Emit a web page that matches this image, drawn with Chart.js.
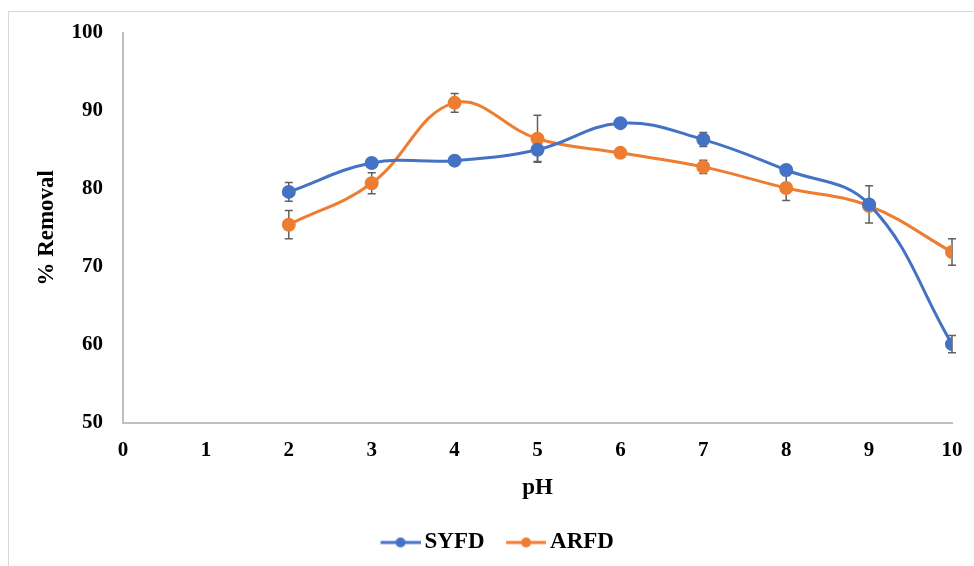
<!DOCTYPE html>
<html>
<head>
<meta charset="utf-8">
<script src="https://cdn.jsdelivr.net/npm/chart.js@4.4.1/dist/chart.umd.min.js"></script>
<style>
  html, body { margin: 0; padding: 0; background: #fff; }
  #frame { position: absolute; left: 8px; top: 11px; width: 966px; height: 555px;
           border-top: 1px solid #d9d9d9; border-left: 1px solid #d9d9d9; box-sizing: border-box; }
  #wrap { position: absolute; left: 0; top: 0; width: 974px; height: 566px; }
</style>
</head>
<body>
<div id="frame"></div>
<div id="wrap"><canvas id="c" width="974" height="566"></canvas></div>
<script>
const pH = [2, 3, 4, 5, 6, 7, 8, 9, 10];
const syfd = [79.6, 83.3, 83.6, 85.0, 88.4, 86.3, 82.4, 78.0, 60.1];
const syfdErr = [1.2, 0.5, 0.2, 1.5, 0.2, 0.9, 0.5, 2.4, 1.1];
const arfd = [75.4, 80.7, 91.0, 86.4, 84.6, 82.8, 80.1, 77.8, 71.9];
const arfdErr = [1.8, 1.35, 1.2, 3.0, 0.2, 0.85, 1.6, 0.4, 1.7];
const xTicks = [0, 1, 2, 3, 4, 5, 6, 7, 8, 9, 10];
const yTicks = [50, 60, 70, 80, 90, 100];

const BLUE = '#4472C4', ORANGE = '#ED7D31';
const FONT = "'Liberation Serif', 'Times New Roman', serif";

function legendIcon(color) {
  const c = document.createElement('canvas');
  c.width = 57; c.height = 14;
  const g = c.getContext('2d');
  g.strokeStyle = color; g.lineWidth = 3;
  g.beginPath(); g.moveTo(17, 7); g.lineTo(57, 7); g.stroke();
  g.fillStyle = color;
  g.beginPath(); g.arc(37, 7, 5, 0, Math.PI * 2); g.fill();
  return c;
}
const icons = [legendIcon(BLUE), legendIcon(ORANGE)];

const errorBars = {
  id: 'errorBars',
  beforeDatasetsDraw(chart) {
    const ctx = chart.ctx;
    const xs = chart.scales.x, ys = chart.scales.y;
    ctx.save();
    ctx.strokeStyle = '#606060';
    ctx.lineWidth = 1.5;
    chart.data.datasets.forEach(ds => {
      ds.data.forEach((p, i) => {
        const e = ds.err[i];
        if (!e) return;
        const x = xs.getPixelForValue(p.x);
        const y1 = ys.getPixelForValue(p.y + e);
        const y2 = ys.getPixelForValue(p.y - e);
        ctx.beginPath();
        ctx.moveTo(x, y1); ctx.lineTo(x, y2);
        ctx.moveTo(x - 4, y1); ctx.lineTo(x + 4, y1);
        ctx.moveTo(x - 4, y2); ctx.lineTo(x + 4, y2);
        ctx.stroke();
      });
    });
    ctx.restore();
  }
};

new Chart(document.getElementById('c'), {
  type: 'line',
  data: {
    datasets: [
      { label: 'SYFD', data: pH.map((x, i) => ({ x, y: syfd[i] })), err: syfdErr,
        borderColor: BLUE, backgroundColor: BLUE, borderWidth: 3, pointRadius: 5.5,
        pointHoverRadius: 5.5, tension: 0.4, pointStyle: 'circle' },
      { label: 'ARFD', data: pH.map((x, i) => ({ x, y: arfd[i] })), err: arfdErr,
        borderColor: ORANGE, backgroundColor: ORANGE, borderWidth: 3, pointRadius: 5.5,
        pointHoverRadius: 5.5, tension: 0.4, pointStyle: 'circle' }
    ]
  },
  options: {
    responsive: false,
    animation: false,
    layout: { padding: { left: 33, right: 22, top: 22, bottom: 2 } },
    plugins: {
      legend: {
        position: 'bottom',
        labels: {
          usePointStyle: true,
          pointStyleWidth: 42,
          color: '#000',
          font: { family: FONT, size: 23, weight: 'bold' },
          padding: 12,
          generateLabels(chart) {
            return chart.data.datasets.map((ds, i) => ({
              text: ds.label, pointStyle: icons[i], fillStyle: ds.borderColor,
              strokeStyle: ds.borderColor, lineWidth: 0, datasetIndex: i, fontColor: '#000'
            }));
          }
        }
      },
      tooltip: { enabled: false }
    },
    scales: {
      x: {
        type: 'linear', min: 0, max: 10,
        afterBuildTicks(s) { s.ticks = xTicks.map(v => ({ value: v })); },
        grid: { display: false, drawTicks: false },
        border: { color: '#bfbfbf', width: 2 },
        ticks: { color: '#000', padding: 15, font: { family: FONT, size: 21, weight: 'bold' } },
        title: { display: true, text: 'pH', color: '#000', padding: { top: 0, bottom: 17 },
                 font: { family: FONT, size: 23, weight: 'bold' } },
        afterFit(s) { s.height = 96; s.paddingRight = 0; s.paddingLeft = 0; }
      },
      y: {
        min: 50, max: 100,
        afterBuildTicks(s) { s.ticks = yTicks.map(v => ({ value: v })); },
        grid: { display: false, drawTicks: false },
        border: { color: '#bfbfbf', width: 2 },
        ticks: { color: '#000', padding: 20, font: { family: FONT, size: 21, weight: 'bold' } },
        title: { display: true, text: '% Removal', color: '#000', padding: { top: 0, bottom: 0 },
                 font: { family: FONT, size: 23, weight: 'bold' } },
        afterFit(s) { s.width = 90; }
      }
    }
  },
  plugins: [errorBars]
});
</script>
</body>
</html>
